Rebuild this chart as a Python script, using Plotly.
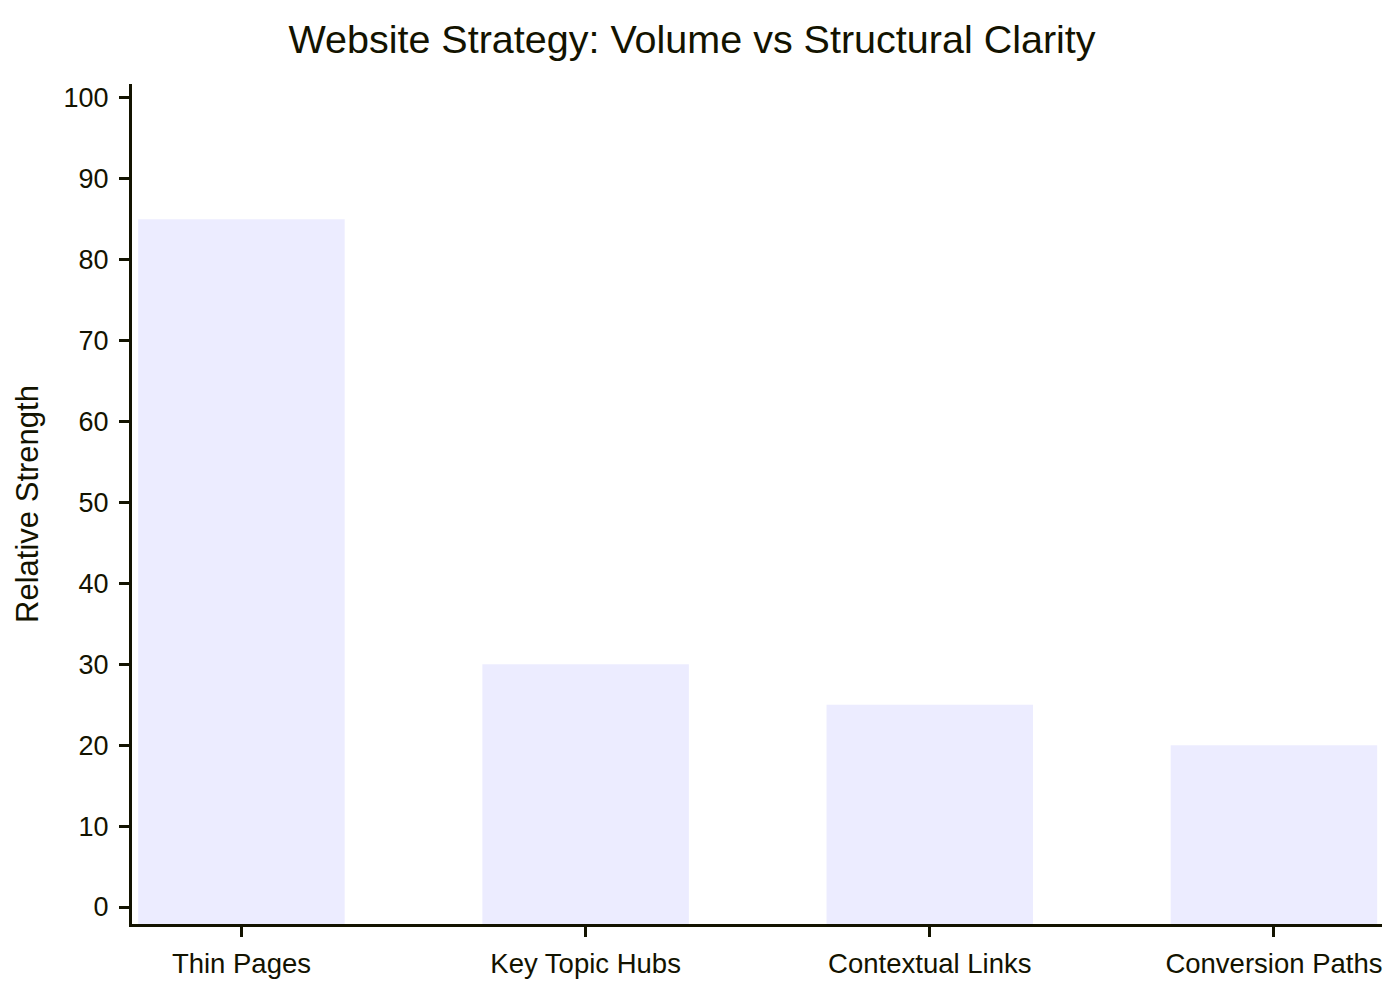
import plotly.graph_objects as go

categories = ["Thin Pages", "Key Topic Hubs", "Contextual Links", "Conversion Paths"]
strength = [85, 30, 25, 20]
y_ticks = [0, 10, 20, 30, 40, 50, 60, 70, 80, 90, 100]

ink = "#131300"
font_family = "Liberation Sans, Arial, sans-serif"

y_min, y_max = -2.1, 101.7

fig = go.Figure()

fig.add_trace(go.Bar(
    x=list(range(len(categories))),
    y=[v - y_min for v in strength],
    base=y_min,
    width=0.6,
    marker=dict(color="#ECECFF", line=dict(width=0)),
    hoverinfo="skip",
))

# page body adds an 8px offset, margins below account for that
fig.update_layout(
    width=1400,
    height=1000,
    margin=dict(l=124, r=26, t=76, b=84),
    paper_bgcolor="white",
    plot_bgcolor="white",
    showlegend=False,
    font=dict(family=font_family, color=ink),
    title=dict(
        text="Website Strategy: Volume vs Structural Clarity",
        x=684 / 1400, xanchor="center",
        y=1 - 31 / 1000, yanchor="middle",
        font=dict(size=39.5, color=ink),
    ),
    xaxis=dict(
        range=[-0.318, 3.314],
        tickvals=list(range(len(categories))),
        ticktext=categories,
        showgrid=False,
        zeroline=False,
        showline=True,
        linecolor=ink,
        linewidth=3,
        ticks="outside",
        ticklen=10,
        tickwidth=3,
        tickcolor=ink,
        ticklabelstandoff=3,
        tickfont=dict(size=27.5, color=ink),
    ),
    yaxis=dict(
        range=[y_min, y_max],
        tickvals=y_ticks,
        showgrid=False,
        zeroline=False,
        showline=True,
        linecolor=ink,
        linewidth=3,
        ticks="outside",
        ticklen=10,
        tickwidth=3,
        tickcolor=ink,
        ticklabelstandoff=5,
        tickfont=dict(size=27, color=ink),
        title=dict(text="Relative Strength", font=dict(size=31, color=ink), standoff=16),
    ),
)

fig.write_html("out.html")
